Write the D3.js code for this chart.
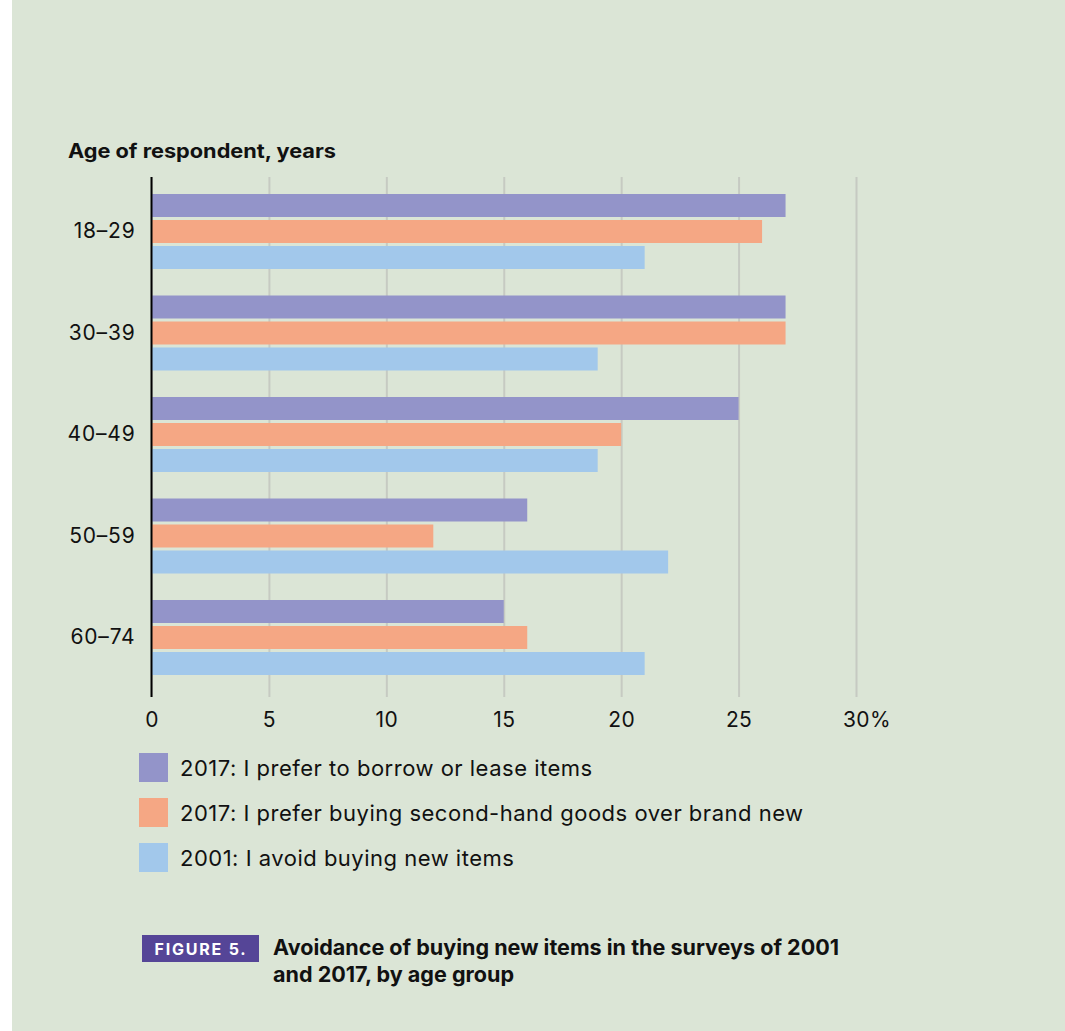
<!DOCTYPE html>
<html>
<head>
<meta charset="utf-8">
<script src="https://cdn.jsdelivr.net/npm/d3@7"></script>
<style>
    html, body { margin: 0; padding: 0; background: #ffffff; }
    svg { display: block; }
    text { font-family: Inter, Roboto, sans-serif; fill: #111; }
</style>
</head>
<body>
<script>
(function() {
    // chart data
    var ageGroups = ["18–29", "30–39", "40–49", "50–59", "60–74"];
    var seriesNames = [
        "2017: I prefer to borrow or lease items",
        "2017: I prefer buying second-hand goods over brand new",
        "2001: I avoid buying new items"
    ];
    var borrow2017 = [27, 27, 25, 16, 15];
    var secondHand2017 = [26, 27, 20, 12, 16];
    var avoid2001 = [21, 19, 19, 22, 21];
    var xTicks = [0, 5, 10, 15, 20, 25, 30];
    var seriesColors = ["#9394c9", "#f5a784", "#a2c8eb"];

    var seriesValues = [borrow2017, secondHand2017, avoid2001];

    var width = 1065, height = 1031;

    var svg = d3.select("body").append("svg")
        .attr("width", width)
        .attr("height", height);

    // panel
    svg.append("rect")
        .attr("x", 12)
        .attr("y", 0)
        .attr("width", width - 12)
        .attr("height", height)
        .attr("fill", "#dbe5d6");

    // scales
    var x = d3.scaleLinear().domain([0, 30]).range([151.5, 856]);
    var y = d3.scaleBand().domain(ageGroups).range([180.75, 688.25]);
    var inner = d3.scaleBand().domain(d3.range(seriesNames.length))
        .range([-37.5, 37.5]).paddingInner(3 / 26);

    var plotTop = 177, plotBottom = 697;

    // x axis with gridlines
    var xAxis = svg.append("g")
        .attr("transform", "translate(0," + plotBottom + ")")
        .call(d3.axisBottom(x)
            .tickValues(xTicks)
            .tickSize(-(plotBottom - plotTop))
            .tickPadding(15)
            .tickFormat(d3.format("d")));
    xAxis.select(".domain").remove();
    xAxis.selectAll(".tick line")
        .attr("stroke", "#c6cac2")
        .attr("stroke-width", 2);
    xAxis.selectAll(".tick text")
        .attr("font-size", 21)
        .attr("letter-spacing", 0.4)
        .attr("font-family", "Inter, Roboto, sans-serif")
        .attr("fill", "#111");
    // percent sign after last tick
    xAxis.append("text")
        .attr("x", x(30) + 14)
        .attr("y", 15)
        .attr("dy", "0.71em")
        .attr("font-size", 21)
        .attr("text-anchor", "start")
        .attr("fill", "#111")
        .text("%");

    // bars
    var groups = svg.append("g").selectAll("g")
        .data(ageGroups)
        .enter()
            .append("g")
            .attr("transform", function(d) {
                return "translate(0," + (y(d) + y.bandwidth() / 2) + ")";
            });

    groups.selectAll("rect")
        .data(function(d, i) {
            return seriesValues.map(function(vals, s) {
                return { series: s, value: vals[i] };
            });
        })
        .enter()
            .append("rect")
            .attr("x", x(0))
            .attr("y", function(d) { return inner(d.series); })
            .attr("width", function(d) { return x(d.value) - x(0); })
            .attr("height", inner.bandwidth())
            .attr("fill", function(d) { return seriesColors[d.series]; });

    // y axis
    var yAxis = svg.append("g")
        .attr("transform", "translate(" + x(0) + ",0)")
        .call(d3.axisLeft(y).tickSize(0).tickPadding(16));
    yAxis.select(".domain").remove();
    yAxis.selectAll(".tick text")
        .attr("font-size", 21)
        .attr("letter-spacing", 0.8)
        .attr("font-family", "Inter, Roboto, sans-serif")
        .attr("fill", "#111");
    svg.append("line")
        .attr("x1", x(0)).attr("x2", x(0))
        .attr("y1", plotTop).attr("y2", plotBottom)
        .attr("stroke", "#000")
        .attr("stroke-width", 2);

    // axis title
    svg.append("text")
        .attr("x", 68)
        .attr("y", 158)
        .attr("font-size", 20)
        .attr("font-weight", "bold")
        .attr("textLength", 268)
        .attr("lengthAdjust", "spacingAndGlyphs")
        .text("Age of respondent, years");

    // legend
    var legend = svg.append("g").selectAll("g")
        .data(seriesNames)
        .enter()
            .append("g")
            .attr("transform", function(d, i) {
                return "translate(139," + (753 + i * 45) + ")";
            });
    legend.append("rect")
        .attr("width", 29)
        .attr("height", 29)
        .attr("fill", function(d, i) { return seriesColors[i]; });
    legend.append("text")
        .attr("x", 41)
        .attr("y", 23)
        .attr("font-size", 22)
        .attr("letter-spacing", 0.5)
        .text(function(d) { return d; });

    // caption
    svg.append("rect")
        .attr("x", 142)
        .attr("y", 935)
        .attr("width", 117)
        .attr("height", 27)
        .attr("fill", "#554597");
    svg.append("text")
        .attr("x", 201)
        .attr("y", 954.5)
        .attr("text-anchor", "middle")
        .attr("font-size", 16)
        .attr("font-weight", "bold")
        .attr("letter-spacing", 1.8)
        .style("fill", "#fff")
        .text("FIGURE  5.");
    var caption = svg.append("text")
        .attr("font-size", 21)
        .attr("font-weight", "bold");
    caption.append("tspan")
        .attr("x", 273).attr("y", 955)
        .attr("textLength", 566)
        .attr("lengthAdjust", "spacingAndGlyphs")
        .text("Avoidance of buying new items in the surveys of 2001");
    caption.append("tspan")
        .attr("x", 273).attr("y", 982)
        .attr("textLength", 241)
        .attr("lengthAdjust", "spacingAndGlyphs")
        .text("and 2017, by age group");
})()
</script>
</body>
</html>
